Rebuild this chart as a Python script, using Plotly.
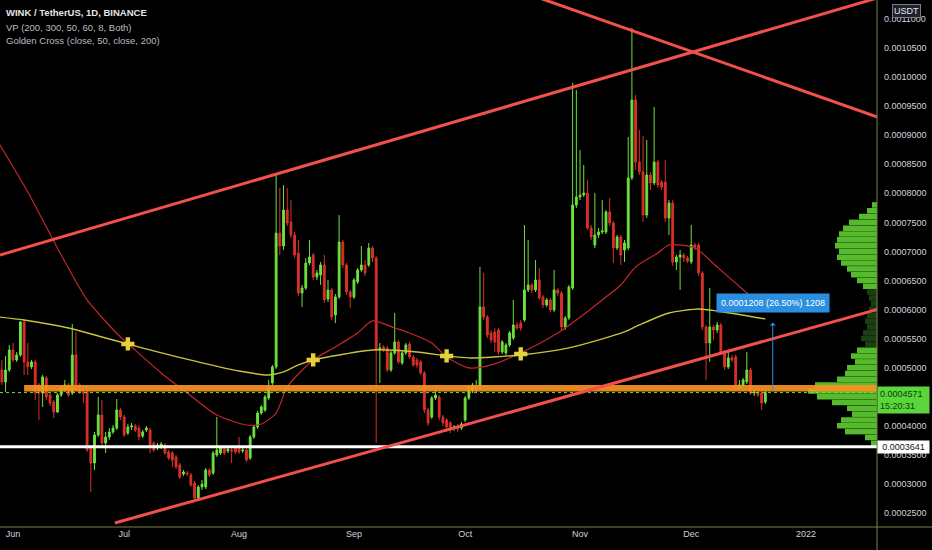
import numpy as np
import pandas as pd
import plotly.graph_objects as go

S = 1e-7  # values below are in units of 0.0000001 USDT

dates = pd.date_range('2021-05-29', periods=207, freq='D')

open_e7 = [4961,4755,4961,5305,5133,5219,5787,5099,5013,5099,
4703,4564,4823,4530,4410,4238,4530,4616,4703,4564,
5219,4703,4582,4582,3618,3360,3842,4186,3704,3808,
3894,3962,4272,4152,3876,3980,3997,3962,3825,3928,
3928,3704,3618,3636,3670,3550,3532,3464,3326,3171,
3188,3154,3016,2758,2948,2948,3240,3188,3498,3532,
3618,3567,3584,3618,3618,3567,3584,3446,3808,3980,
4220,4272,4478,4737,5013,7317,7094,7713,7507,7283,
6973,6285,6371,6801,6939,6561,6595,6767,6182,6337,
5907,6217,7163,6767,6302,6217,6475,6681,6767,6767,
7059,6887,5305,5357,5340,4961,5254,5443,5082,5254,
5408,5185,5133,5099,4909,4272,4152,4478,4496,4152,
4100,4048,3962,3980,3962,4100,4478,4616,4668,4650,
6045,5873,5597,5615,5649,5271,5254,5391,5511,5735,
5769,5821,6337,6423,6337,6509,6217,6079,6165,5993,
6337,6285,5701,5855,6371,7799,7937,7971,8005,7403,
7111,7283,7335,7335,7679,7489,7059,7249,7025,7059,
8263,9606,8539,8367,7627,8315,8177,8539,8194,8194,
7575,7833,6819,6904,6939,6887,6819,7111,7111,6630,
5701,5425,5701,5649,5735,5254,5013,5168,5185,4668,
4703,4755,4961,4564,4582,4564,4410]

high_e7 = [5133,5202,5391,5425,5271,5804,5821,5425,5133,5133,
4737,4875,4858,4564,4444,4564,4685,4789,4737,5752,
5615,4737,4616,4616,3670,3894,4496,4444,3894,3962,
4014,4461,4306,4186,4031,4048,4031,4014,3928,3997,
3962,3739,3704,3721,3704,3584,3567,3498,3360,3240,
3223,3188,3051,2982,3068,3274,3274,3567,4152,3653,
3653,3636,3636,3653,3808,3618,3618,3842,4014,4255,
4358,4530,4789,5047,8315,8091,8143,8091,7885,7335,
7197,6423,6887,7197,6973,6681,6819,6939,6509,6371,
6268,7627,7197,6801,6337,6543,6715,7094,6853,7146,
7094,6922,5425,5391,5374,5288,5941,5477,5288,5425,
5443,5219,5168,5133,4944,4306,4513,4616,4530,4186,
4134,4083,4014,4031,4065,4513,4703,4737,4789,6733,
6630,5907,5649,5683,5683,5477,5425,5632,6165,5787,
5821,7455,7197,6457,6853,6715,6251,6199,6199,6681,
6371,6320,5890,6423,9898,9778,8745,8487,8229,7455,
8005,7403,7885,7713,7920,7524,7283,7283,7197,8969,
10844,9692,9090,8986,8917,8367,9486,8573,8229,8573,
7885,7885,6939,7025,6973,6922,7455,7146,7146,6664,
5735,6371,5735,5787,5769,5305,5271,5219,5219,4789,
4823,5271,4996,4616,4616,4599,4599]

low_e7 = [4703,4582,4927,5099,5099,5185,4875,4875,4978,4444,
4100,4324,4444,4341,4134,4220,4496,4582,4496,4530,
4616,4547,4392,3550,2862,3240,3808,3670,3532,3756,
3859,3928,4100,3808,3842,3928,3894,3756,3790,3894,
3532,3550,3584,3601,3498,3412,3292,3257,3085,3137,
3137,2948,2724,2724,2896,2913,3120,3154,3464,3498,
3498,3532,3360,3515,3515,3532,3378,3412,3773,3945,
4186,4238,4444,4703,4978,6939,7025,7437,7231,6887,
6234,6045,6337,6767,6509,6509,6423,6113,6130,5821,
5769,6182,6715,6251,6027,6182,6440,6647,6578,6733,
6819,3704,4737,5271,4927,4927,5219,5064,5047,5219,
5150,5013,4996,4875,4220,3997,4117,4444,4100,3997,
3894,3876,3911,3894,3928,4065,4444,4564,4582,4616,
5821,5511,5425,5271,5219,5236,5202,5357,5477,5649,
5632,5787,6302,6285,6302,6165,6027,6045,5959,5959,
6234,5649,5649,5821,6337,7747,7885,7937,7369,7197,
7059,7231,7300,7300,7437,6801,7025,6767,6819,7025,
8229,8401,8315,7507,7575,8057,8143,8091,8057,7507,
7283,6750,6681,6337,6819,6801,6784,7025,6578,5649,
4789,5099,5477,5597,5219,4961,4978,5099,4616,4633,
4668,4720,4530,4513,4496,4272,4375]

close_e7 = [4755,4961,5305,5133,5219,5787,5099,5013,5099,4564,
4564,4841,4496,4392,4238,4530,4650,4703,4530,5219,
4668,4582,4564,3584,3360,3842,4186,3704,3808,3894,
3962,4272,4152,3842,3980,3997,3928,3808,3894,3962,
3636,3584,3670,3687,3532,3446,3412,3292,3120,3206,
3171,2982,2758,2948,2999,3240,3154,3532,3584,3618,
3532,3601,3567,3550,3550,3584,3412,3808,3980,4220,
4324,4496,4668,5013,7317,7094,7713,7489,7283,6939,
6285,6371,6801,6904,6561,6630,6767,6165,6337,5873,
6217,7163,6767,6302,6217,6509,6681,6767,6630,7059,
6887,5305,5340,5305,4961,5254,5443,5099,5254,5391,
5185,5047,5047,4909,4272,4048,4478,4530,4152,4048,
3980,3928,3980,3945,4031,4478,4668,4703,4685,6045,
5873,5563,5477,5443,5271,5443,5391,5597,5735,5683,
5683,6337,6423,6337,6509,6199,6079,6165,5993,6337,
6285,5701,5855,6388,7799,7937,7971,8005,7403,7249,
7283,7335,7352,7679,7489,7059,7249,6939,7146,8263,
9606,8539,8367,7627,8315,8177,8539,8143,8108,7575,
7833,6819,6904,6939,6887,6836,7111,7077,6630,5701,
5425,5701,5649,5735,5254,5013,5168,5133,4668,4703,
4789,4961,4564,4582,4530,4392,4571]

# Moving averages
ma50_dates = ['2021-05-28','2021-06-05','2021-06-13','2021-06-21','2021-06-30','2021-07-03',
              '2021-07-11','2021-07-18','2021-07-26','2021-08-03','2021-08-07','2021-08-11',
              '2021-08-14','2021-08-21','2021-08-27','2021-09-02','2021-09-06','2021-09-12',
              '2021-09-16','2021-09-22','2021-09-26','2021-10-02','2021-10-08','2021-10-16',
              '2021-10-26','2021-10-31','2021-11-07','2021-11-12','2021-11-16','2021-11-22',
              '2021-11-25','2021-12-02','2021-12-08','2021-12-16','2021-12-21']
ma50_e7 = [8883,8023,7059,6165,5528,5357,4909,4564,4186,4014,4031,4220,4668,5133,5357,
           5597,5804,5683,5597,5425,5185,4996,5047,5254,5597,5821,6165,6423,6733,6973,
           7111,7059,6733,6285,5993]

ma200_dates = ['2021-05-28','2021-06-04','2021-06-16','2021-06-24','2021-07-02','2021-07-10',
               '2021-07-21','2021-08-01','2021-08-09','2021-08-13','2021-08-17','2021-08-21',
               '2021-08-28','2021-09-06','2021-09-18','2021-09-26','2021-10-02','2021-10-16',
               '2021-10-29','2021-11-13','2021-11-17','2021-11-25','2021-12-03','2021-12-08',
               '2021-12-21']
ma200_e7 = [5873,5821,5683,5546,5408,5271,5099,4944,4875,4927,5047,5133,5219,5305,5271,
            5202,5168,5219,5340,5615,5735,5941,6010,5976,5838]

cross_dates = ['2021-07-02','2021-08-21','2021-09-26','2021-10-16']
cross_e7 = [5408,5133,5202,5236]

# Visible-range volume profile (price row centre, relative volume, in/out of value area)
vp_price_e7 = [7800,7700,7600,7500,7400,7300,7200,7100,7000,6900,6800,6700,6600,6500,6400,
               6300,6200,6100,6000,5900,5800,5700,5600,5500,5400,
               5300,5200,5100,5000,4900,4800,4700,4600,4500,4400,4300,4200,4100,4000,
               3900,3800,3700]
vp_volume = [5,10,18,28,34,38,40,42,38,40,36,30,26,20,14,
             10,8,6,8,10,12,10,14,16,12,
             20,26,22,30,32,40,62,69,60,45,30,25,36,40,32,12,6]
vp_in_value_area = [1,1,1,1,1,1,1,1,1,1,1,1,1,1,1,
                    0,0,0,0,0,0,0,0,0,0,
                    1,1,1,1,1,1,1,1,1,1,1,1,1,1,1,1,1]

month_ticks = ['2021-06-01','2021-07-01','2021-08-01','2021-09-01','2021-10-01',
               '2021-11-01','2021-12-01','2022-01-01']
month_labels = ['Jun','Jul','Aug','Sep','Oct','Nov','Dec','2022']

price_ticks_e7 = [2500,3000,3500,4000,5000,5500,6000,6500,7000,7500,8000,8500,9000,
                  9500,10000,10500,11000]

last_price_e7 = 4571
support_e7 = 3641
zone_lo_e7, zone_hi_e7 = 4590, 4703
measure_from_e7, measure_to_e7 = 4571, 5779

UP = '#6ee23c'
DN = '#d9302c'
TL = '#f2504b'
FONT = 'Liberation Sans'

fig = go.Figure()

vp_colors = ['rgba(100,220,52,0.85)' if f else 'rgba(60,140,40,0.45)' for f in vp_in_value_area]
fig.add_trace(go.Bar(
    x=vp_volume, y=np.array(vp_price_e7) * S, orientation='h', xaxis='x2',
    width=95 * S, marker=dict(color=vp_colors, line_width=0),
    hoverinfo='skip', showlegend=False))

fig.add_trace(go.Candlestick(
    x=dates, open=np.array(open_e7) * S, high=np.array(high_e7) * S,
    low=np.array(low_e7) * S, close=np.array(close_e7) * S,
    increasing=dict(line=dict(color=UP, width=1), fillcolor=UP),
    decreasing=dict(line=dict(color=DN, width=1), fillcolor=DN),
    whiskerwidth=0, hoverinfo='skip', showlegend=False))

fig.add_trace(go.Scatter(
    x=ma50_dates, y=np.array(ma50_e7) * S, mode='lines',
    line=dict(color='#c4262a', width=1.2, shape='spline', smoothing=0.7),
    hoverinfo='skip', showlegend=False))
fig.add_trace(go.Scatter(
    x=ma200_dates, y=np.array(ma200_e7) * S, mode='lines',
    line=dict(color='#c8c43a', width=1.4, shape='spline', smoothing=0.7),
    hoverinfo='skip', showlegend=False))

shapes = []
# orange zone
shapes.append(dict(type='rect', xref='x', yref='y', x0='2021-06-04', x1='2022-02-15',
                   y0=zone_lo_e7 * S, y1=zone_hi_e7 * S, fillcolor='#f7931e',
                   opacity=0.92, line_width=0, layer='above'))
# last price dotted line
shapes.append(dict(type='line', xref='paper', yref='y', x0=0, x1=1,
                   y0=last_price_e7 * S, y1=last_price_e7 * S,
                   line=dict(color='#7fdc3a', width=1, dash='dot'), layer='above'))
# white support line
shapes.append(dict(type='line', xref='paper', yref='y', x0=0, x1=1,
                   y0=support_e7 * S, y1=support_e7 * S,
                   line=dict(color='#ffffff', width=3), layer='above'))
# trend lines
trend_lines = [
    ('2021-05-28 12:00', 6939, '2022-01-25', 11450),
    ('2021-06-28 12:00', 2328, '2022-01-25', 6088),
    ('2021-10-20 00:00', 11384, '2022-01-25', 9207),
]
for xa, ya, xb, yb in trend_lines:
    shapes.append(dict(type='line', xref='x', yref='y', x0=xa, x1=xb,
                       y0=ya * S, y1=yb * S, line=dict(color=TL, width=3), layer='above'))
# pane separators
shapes.append(dict(type='line', xref='paper', yref='paper', x0=0, x1=1.07, y0=0, y1=0,
                   line=dict(color='#7d8048', width=1)))
shapes.append(dict(type='line', xref='paper', yref='paper', x0=1, x1=1, y0=-0.05, y1=1,
                   line=dict(color='#7d8048', width=1)))

fig.add_trace(go.Scatter(
    x=cross_dates, y=np.array(cross_e7) * S, mode='markers',
    marker=dict(symbol='cross', size=11, color='#e3d23a', line=dict(width=0)),
    hoverinfo='skip', showlegend=False))

annotations = [
    dict(xref='paper', yref='paper', x=0, y=1 - 13 / 527, xanchor='left', yanchor='middle',
         xshift=4, text='<b>WINK / TetherUS, 1D, BINANCE</b>', showarrow=False,
         font=dict(family=FONT, size=9.5, color='#e6e6e6')),
    dict(xref='paper', yref='paper', x=0, y=1 - 27 / 527, xanchor='left', yanchor='middle',
         xshift=4, text='VP (200, 300, 50, 60, 8, Both)', showarrow=False,
         font=dict(family=FONT, size=9.5, color='#b8bbc4')),
    dict(xref='paper', yref='paper', x=0, y=1 - 41 / 527, xanchor='left', yanchor='middle',
         xshift=4, text='Golden Cross (close, 50, close, 200)', showarrow=False,
         font=dict(family=FONT, size=9.5, color='#b8bbc4')),
    dict(xref='paper', yref='paper', x=1, y=1, xanchor='left', yanchor='top',
         xshift=15, yshift=-4, text='USDT', showarrow=False, bgcolor='#1e222d',
         bordercolor='#787b86', borderwidth=1, borderpad=1,
         font=dict(family=FONT, size=9, color='#e6e6e6')),
    dict(xref='paper', yref='y', x=1, y=last_price_e7 * S, xanchor='left', yanchor='top',
         yshift=7, text='0.0004571<br>15:20:31', showarrow=False, align='left',
         bgcolor='#5ad63a', borderpad=2, width=47,
         font=dict(family=FONT, size=9, color='#0d3d0d')),
    dict(xref='paper', yref='y', x=1, y=support_e7 * S, xanchor='left', yanchor='middle',
         text='0.0003641', showarrow=False, bgcolor='#ffffff', borderpad=1, width=49,
         font=dict(family=FONT, size=9, color='#131722')),
    dict(xref='x', yref='y', x='2021-12-23', y=measure_to_e7 * S, axref='x', ayref='y',
         ax='2021-12-23', ay=measure_from_e7 * S, text='', showarrow=True,
         arrowhead=1, arrowsize=1, arrowwidth=1, arrowcolor='#2a8fe0'),
    dict(xref='x', yref='y', x='2021-12-23', y=measure_to_e7 * S, xanchor='center',
         yanchor='bottom', yshift=9, text='0.0001208 (26.50%) 1208', showarrow=False,
         bgcolor='#2a8fe0', borderpad=4,
         font=dict(family=FONT, size=9, color='#ffffff')),
]

fig.update_layout(
    width=932, height=550,
    margin=dict(l=0, r=55, t=0, b=23),
    paper_bgcolor='#000000', plot_bgcolor='#000000',
    showlegend=False,
    shapes=shapes, annotations=annotations,
    xaxis=dict(type='date', range=['2021-05-28 12:00', '2022-01-20 03:00'],
               tickvals=month_ticks, ticktext=month_labels, showgrid=False,
               zeroline=False, showline=False, ticks='',
               rangeslider=dict(visible=False),
               tickfont=dict(family=FONT, size=9, color='#d1d4dc')),
    xaxis2=dict(overlaying='x', range=[877, 0], visible=False),
    yaxis=dict(side='right', range=[2259 * S, 11326 * S],
               tickvals=[v * S for v in price_ticks_e7], tickformat='.7f',
               showgrid=False, zeroline=False, showline=False, ticks='',
               ticklabelstandoff=6,
               tickfont=dict(family=FONT, size=9, color='#d1d4dc')),
    boxgap=0.3,
)

fig.write_html('out.html', config={'displayModeBar': False},
               post_script="document.body.style.margin='0';document.body.style.background='#000';")
